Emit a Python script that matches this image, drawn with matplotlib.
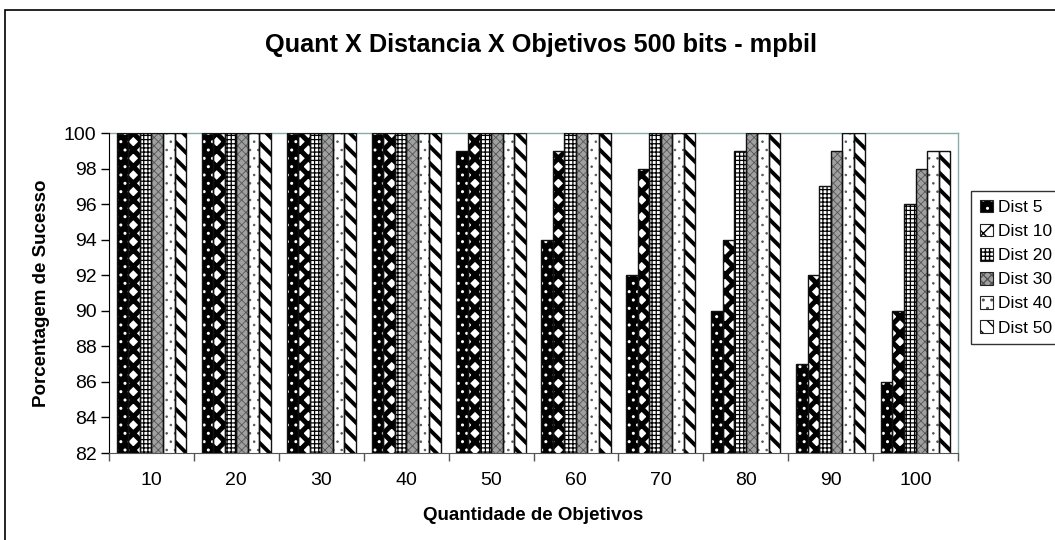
import matplotlib
matplotlib.use("Agg")
import matplotlib.pyplot as plt
from matplotlib.patches import Rectangle
import numpy as np

plt.rcParams['font.family'] = ['Liberation Sans', 'DejaVu Sans']

categories = ["10", "20", "30", "40", "50", "60", "70", "80", "90", "100"]
series_names = ["Dist 5", "Dist 10", "Dist 20", "Dist 30", "Dist 40", "Dist 50"]
dist5 = [100, 100, 100, 100, 99, 94, 92, 90, 87, 86]
dist10 = [100, 100, 100, 100, 100, 99, 98, 94, 92, 90]
dist20 = [100, 100, 100, 100, 100, 100, 100, 99, 97, 96]
dist30 = [100, 100, 100, 100, 100, 100, 100, 100, 99, 98]
dist40 = [100, 100, 100, 100, 100, 100, 100, 100, 100, 99]
dist50 = [100, 100, 100, 100, 100, 100, 100, 100, 100, 99]
series = [dist5, dist10, dist20, dist30, dist40, dist50]

# (face, hatch, hatch colour, hatch linewidth)
styles = [
    ("black", "..", "white", 1.0),
    ("white", "xx", "black", 3.6),
    ("white", "++++", "black", 0.9),
    ("#a0a0a0", "xxxx", "#555555", 0.6),
    ("white", "..", "#555555", 0.6),
    ("white", "\\\\", "black", 2.8),
]

fig = plt.figure(figsize=(10.55, 5.40), dpi=100)
fig.patch.set_facecolor("white")
# outer chart border
fig.add_artist(Rectangle((5 / 1055, -0.1), 1.2, 1 - 10 / 540 + 0.1,
                         transform=fig.transFigure, fill=False,
                         edgecolor="black", linewidth=1.2))

ax = fig.add_axes([109 / 1055, 1 - 453 / 540, (958 - 109) / 1055, (453 - 133) / 540])

x = np.arange(len(categories))
n = len(series)
w = 0.136
handles = []


def set_hlw(p, lw):
    if hasattr(p, "set_hatch_linewidth"):
        p.set_hatch_linewidth(lw)


for i, (vals, (face, hatch, hcol, hlw)) in enumerate(zip(series, styles)):
    pos = x + (i - (n - 1) / 2) * w
    ax.bar(pos, vals, width=w, color=face, edgecolor="none", linewidth=0, zorder=2)
    with plt.rc_context({"hatch.linewidth": hlw}):
        bars = ax.bar(pos, vals, width=w, facecolor="none", edgecolor=hcol,
                      hatch=hatch, linewidth=0, zorder=3)
        for b in bars:
            set_hlw(b, hlw)
    ax.bar(pos, vals, width=w, facecolor="none", edgecolor="#111111",
           linewidth=1.0, zorder=4)
    p1 = Rectangle((0, 0), 1, 1, facecolor=face, edgecolor="none", linewidth=0)
    with plt.rc_context({"hatch.linewidth": hlw}):
        p2 = Rectangle((0, 0), 1, 1, facecolor="none", edgecolor=hcol, hatch=hatch, linewidth=0)
        set_hlw(p2, hlw)
    p3 = Rectangle((0, 0), 1, 1, facecolor="none", edgecolor="#222222", linewidth=0.8)
    handles.append((p1, p2, p3))

ax.set_xlim(-0.5, len(categories) - 0.5)
ax.set_ylim(82, 100)
ax.set_yticks(np.arange(82, 101, 2))
ax.tick_params(axis="y", direction="out", length=6, width=1, labelsize=14, pad=3)
ax.set_xticks(x)
ax.set_xticklabels(categories, fontsize=14)
ax.set_xticks(np.arange(-0.5, len(categories), 1), minor=True)
ax.tick_params(axis="x", which="major", length=0, pad=14)
ax.tick_params(axis="x", which="minor", direction="out", length=6, width=1, color="#555555")

for s in ("top", "right"):
    ax.spines[s].set_color("#8aabab")
    ax.spines[s].set_linewidth(1.0)
ax.spines["left"].set_color("black")
ax.spines["bottom"].set_color("#555555")
ax.spines["left"].set_zorder(5)
ax.spines["bottom"].set_zorder(5)

ax.set_xlabel("Quantidade de Objetivos", fontsize=13.5, fontweight="bold", labelpad=12.5)
ax.set_ylabel("Porcentagem de Sucesso", fontsize=13.5, fontweight="bold", labelpad=10)
fig.text(541 / 1055, 1 - 45 / 540, "Quant X Distancia X Objetivos 500 bits - mpbil",
         fontsize=18.2, fontweight="bold", ha="center", va="center")

leg = fig.legend(handles, series_names, loc="upper left",
                 bbox_to_anchor=(971 / 1055, 1 - 191 / 540),
                 fontsize=12.5, frameon=True, fancybox=False, shadow=False,
                 handlelength=0.75, handleheight=0.75, handletextpad=0.3,
                 labelspacing=0.5, borderpad=0.5, borderaxespad=0)
leg.get_frame().set_edgecolor("black")
leg.get_frame().set_linewidth(1.0)

fig.savefig("out.png", dpi=100)
